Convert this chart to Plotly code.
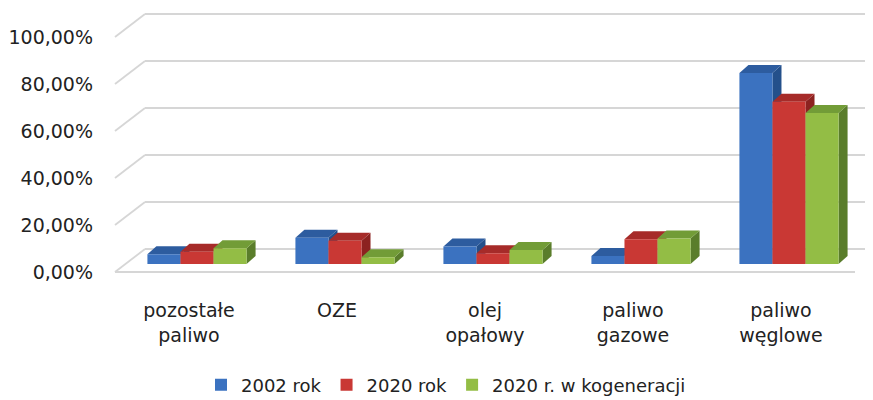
import plotly.graph_objects as go

# ---------------- data ----------------
categories = ["pozostałe<br>paliwo", "OZE", "olej<br>opałowy", "paliwo<br>gazowe", "paliwo<br>węglowe"]
series_names = ["2002 rok", "2020 rok", "2020 r. w kogeneracji"]
values_2002 = [4.1, 11.2, 7.4, 3.4, 81.3]
values_2020 = [5.2, 9.9, 4.6, 10.5, 69.0]
values_2020_kog = [6.7, 2.9, 6.0, 10.9, 64.3]
tick_values = [0, 20, 40, 60, 80, 100]
tick_labels = ["0,00%", "20,00%", "40,00%", "60,00%", "80,00%", "100,00%"]

# ---------------- style ----------------
front_colors = ["#3b72c0", "#c93834", "#93bd45"]
top_colors = ["#2d5c9f", "#a62b29", "#729c37"]
side_colors = ["#24508b", "#8c2220", "#5a7d2b"]
FONT = "DejaVu Sans"
TEXT = "#222222"
GRID = "#d6d6d6"

PAGE_OFF = 8                       # default body margin of the html page
W, H = 873 - PAGE_OFF, 400 - PAGE_OFF
FRONT_X0, FRONT_X1 = 115, 855      # front floor plane (labels), window px
FRONT_Y0, FRONT_Y100 = 272, 37
BAR_X0, BAR_X1 = 123, 863          # plane of bar front faces
BAR_Y0 = 264
BACK_DX, BACK_DY = 30, 23          # back wall offset
DEPTH_DX, DEPTH_DY = 9, 8          # bar depth offset
BARGAP = 0.33
YMAX = 100


def fx(px):
    return (px - PAGE_OFF) / W


def fy(py):
    return 1 - (py - PAGE_OFF) / H


scale = (FRONT_Y0 - FRONT_Y100) / YMAX  # px per unit
series = [values_2002, values_2020, values_2020_kog]

fig = go.Figure()

# invisible trace that carries the category axis of the front plane
fig.add_trace(go.Scatter(x=categories, y=[0] * len(categories), xaxis="x2", yaxis="y2",
                         mode="markers", marker=dict(opacity=0), showlegend=False,
                         hoverinfo="skip"))

for name, vals, col in zip(series_names, series, front_colors):
    fig.add_trace(go.Bar(x=categories, y=vals, name=name, xaxis="x", yaxis="y",
                         marker=dict(color=col, line=dict(width=0))))

shapes = []
# back wall grid + side diagonals
for v in tick_values:
    yf = FRONT_Y0 - v * scale
    yb = yf - BACK_DY
    shapes.append(dict(type="line", xref="paper", yref="paper", layer="below",
                       x0=fx(FRONT_X0), y0=fy(yf), x1=fx(FRONT_X0 + BACK_DX), y1=fy(yb),
                       line=dict(color=GRID, width=1.8)))
    shapes.append(dict(type="line", xref="paper", yref="paper", layer="below",
                       x0=fx(FRONT_X0 + BACK_DX), y0=fy(yb), x1=fx(873), y1=fy(yb),
                       line=dict(color=GRID, width=1.8)))
shapes.append(dict(type="line", xref="paper", yref="paper", layer="below",
                   x0=fx(FRONT_X0), y0=fy(FRONT_Y0), x1=fx(FRONT_X1), y1=fy(FRONT_Y0),
                   line=dict(color=GRID, width=1.8)))

# 3D faces of the bars (top and side), computed from values through the bar axes
n = len(series)
bw = (1 - BARGAP) / n
dxu = DEPTH_DX / ((BAR_X1 - BAR_X0) / len(categories))
dyu = DEPTH_DY / scale
for i in range(len(categories)):
    for k in range(n):
        h = series[k][i]
        x0 = i - (1 - BARGAP) / 2 + k * bw
        x1 = x0 + bw
        side = (f"M{x1},0 L{x1 + dxu},{dyu} L{x1 + dxu},{h + dyu} L{x1},{h} Z")
        top = (f"M{x0},{h} L{x1},{h} L{x1 + dxu},{h + dyu} L{x0 + dxu},{h + dyu} Z")
        shapes.append(dict(type="path", xref="x", yref="y", layer="below", path=side,
                           fillcolor=side_colors[k], line=dict(width=0)))
        shapes.append(dict(type="path", xref="x", yref="y", layer="below", path=top,
                           fillcolor=top_colors[k], line=dict(width=0)))

fig.update_layout(
    width=W, height=H,
    margin=dict(l=0, r=0, t=0, b=0, autoexpand=False),
    paper_bgcolor="white", plot_bgcolor="rgba(0,0,0,0)",
    separators=", ",
    barmode="group", bargap=BARGAP, bargroupgap=0,
    font=dict(family=FONT, color=TEXT, size=19),
    shapes=shapes,
    xaxis=dict(domain=[fx(BAR_X0), fx(BAR_X1)], range=[-0.5, len(categories) - 0.5],
               type="category", showticklabels=False, showgrid=False, zeroline=False,
               showline=False, fixedrange=True, automargin=False),
    yaxis=dict(domain=[fy(BAR_Y0), fy(BAR_Y0 - (FRONT_Y0 - FRONT_Y100))], range=[0, YMAX],
               showticklabels=False, showgrid=False, zeroline=False, showline=False,
               fixedrange=True, automargin=False),
    xaxis2=dict(domain=[fx(FRONT_X0), fx(FRONT_X1)], range=[-0.5, len(categories) - 0.5],
                anchor="y2", type="category", categoryorder="array", categoryarray=categories,
                showgrid=False, zeroline=False, showline=False, ticks="",
                ticklabelstandoff=25, tickfont=dict(size=19, family=FONT, color=TEXT),
                fixedrange=True, automargin=False),
    yaxis2=dict(domain=[fy(FRONT_Y0), fy(FRONT_Y100)], range=[0, YMAX], anchor="x2",
                tickmode="array", tickvals=tick_values, ticktext=tick_labels,
                showgrid=False, zeroline=False, showline=False, ticks="",
                ticklabelstandoff=21, tickfont=dict(size=19, family=FONT, color=TEXT),
                fixedrange=True, automargin=False),
    legend=dict(orientation="h", x=fx(446), xanchor="center", y=fy(385), yanchor="middle",
                font=dict(size=18, family=FONT, color=TEXT), bgcolor="rgba(0,0,0,0)",
                traceorder="normal", itemwidth=30),
    hovermode=False,
)

fig.write_html("out.html")
